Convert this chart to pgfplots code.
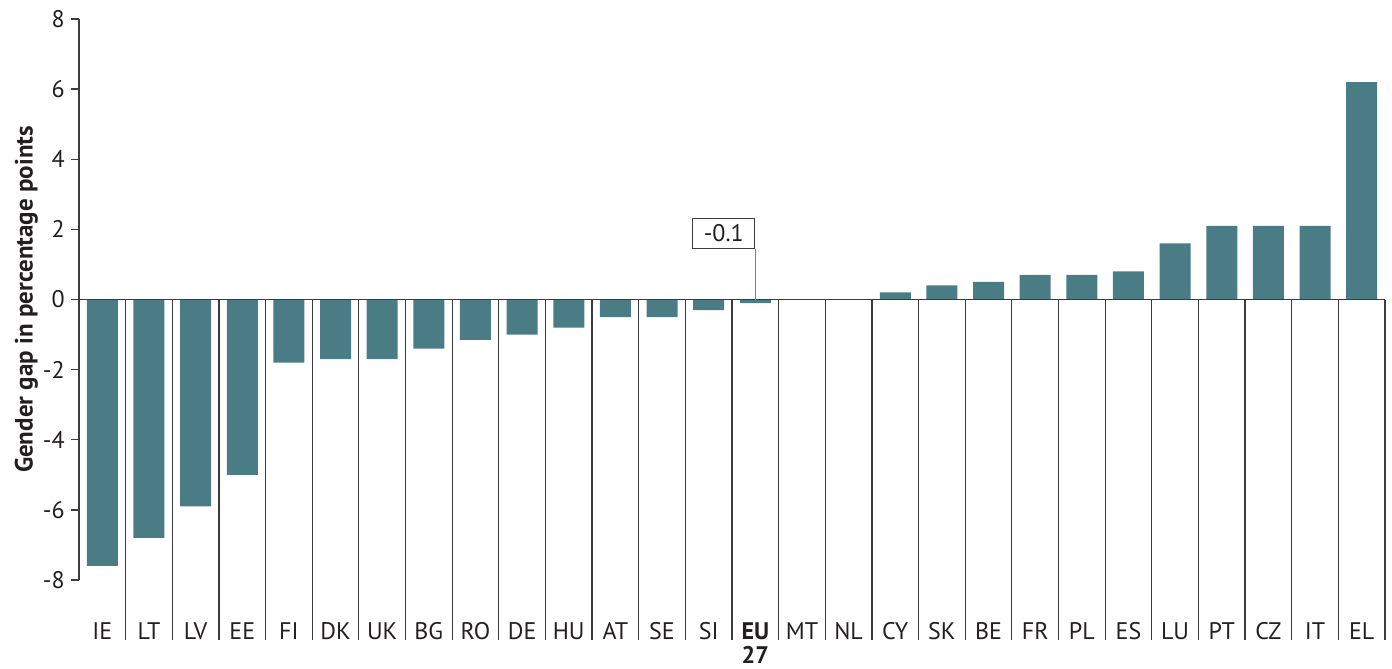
\documentclass[border=0pt]{standalone}
\usepackage{pgfplots}
\pgfplotsset{compat=1.18}
\usepackage{pgfplotstable}
\usepackage{fontspec}
\setmainfont{PT Sans}
\definecolor{barteal}{RGB}{74,124,133}
\definecolor{inkgray}{RGB}{35,31,32}
\definecolor{linegray}{RGB}{60,60,60}

% gender gap by country, percentage points
\pgfplotstableread{
idx val
0 -7.6
1 -6.8
2 -5.9
3 -5.0
4 -1.8
5 -1.7
6 -1.7
7 -1.4
8 -1.15
9 -1.0
10 -0.8
11 -0.5
12 -0.5
13 -0.3
14 -0.1
15 0
16 0
17 0.2
18 0.4
19 0.5
20 0.7
21 0.7
22 0.8
23 1.6
24 2.1
25 2.1
26 2.1
27 6.2
}\gaptable

\begin{document}
\begin{tikzpicture}[font=\fontsize{12}{14}\selectfont, inkgray]
\useasboundingbox (-39.5pt,-44.5pt) rectangle (656.5pt,290pt);
\begin{axis}[
  at={(0,0)}, anchor=south west,
  scale only axis, width=653pt, height=280.5pt,
  xmin=-0.5, xmax=27.5, ymin=-8, ymax=8,
  axis lines*=left,
  x axis line style={draw=none},
  y axis line style={linegray, line width=0.7pt},
  ytick={-8,-6,...,8},
  ytick style={linegray, line width=0.7pt},
  tick align=outside, major tick length=4pt,
  xtick={0,...,27}, xtick style={draw=none},
  xticklabels={IE,LT,LV,EE,FI,DK,UK,BG,RO,DE,HU,AT,SE,SI,{\textbf{EU}\\[-2pt]\textbf{27}},MT,NL,CY,SK,BE,FR,PL,ES,LU,PT,CZ,IT,EL},
  xticklabel style={align=center, yshift=-16pt, inner sep=1pt},
  yticklabel style={inner sep=3pt},
  /pgf/number format/assume math mode=true,
  ylabel={\fontsize{12.5}{14}\selectfont\textbf{Gender gap in percentage points}},
  ylabel style={yshift=-4pt},
  ybar, bar width=15.5pt,
  clip=false,
]
\addplot[fill=barteal, draw=none] table[x=idx, y=val]{\gaptable};
\pgfplotsinvokeforeach{0,...,27}{
  \draw[linegray, line width=0.6pt] (axis cs:#1+0.5,0) -- (axis cs:#1+0.5,-9.7);
}
\draw[linegray, line width=0.7pt] (axis cs:-0.5,0) -- (axis cs:27.5,0);
\draw[gray, line width=0.8pt] (axis cs:14,1.45) -- (axis cs:14,0);
\node[draw=linegray, line width=0.5pt, fill=white, anchor=south east,
  minimum width=31pt, minimum height=15pt, inner sep=1pt] at (axis cs:14,1.45) {-0.1};
\end{axis}
\end{tikzpicture}
\end{document}
